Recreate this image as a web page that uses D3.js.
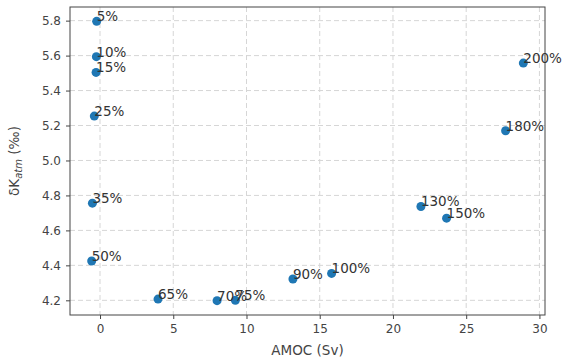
<!DOCTYPE html>
<html>
<head>
<meta charset="utf-8">
<script src="https://cdn.jsdelivr.net/npm/d3@7"></script>
<style>
  body { margin: 0; background: #fff; }
  text { font-family: "DejaVu Sans", sans-serif; }
</style>
</head>
<body>
<div id="chart"></div>
<script>
const labels = ["5%", "10%", "15%", "25%", "35%", "50%", "65%", "70%", "75%", "90%", "100%", "130%", "150%", "180%", "200%"];
const amoc = [-0.23, -0.25, -0.27, -0.39, -0.52, -0.57, 3.96, 7.99, 9.24, 13.17, 15.81, 21.91, 23.66, 27.69, 28.9];
const dK = [5.796, 5.594, 5.504, 5.254, 4.756, 4.425, 4.207, 4.198, 4.2, 4.322, 4.354, 4.737, 4.67, 5.17, 5.557];
const xTicks = [0, 5, 10, 15, 20, 25, 30];
const yTicks = [4.2, 4.4, 4.6, 4.8, 5.0, 5.2, 5.4, 5.6, 5.8];

const width = 568;
const height = 362;
const margin = { top: 7, right: 23, bottom: 47, left: 70 };

const x = d3.scaleLinear()
  .domain([-2.05, 30.38])
  .range([margin.left, width - margin.right]);

const y = d3.scaleLinear()
  .domain([4.116, 5.878])
  .range([height - margin.bottom, margin.top]);

const svg = d3.select("#chart")
  .append("svg")
  .attr("width", width)
  .attr("height", height);

// grid
svg.append("g")
  .selectAll("line")
  .data(xTicks)
  .join("line")
  .attr("x1", d => x(d)).attr("x2", d => x(d))
  .attr("y1", margin.top).attr("y2", height - margin.bottom)
  .attr("stroke", "#d6d6d6")
  .attr("stroke-dasharray", "5,3");

svg.append("g")
  .selectAll("line")
  .data(yTicks)
  .join("line")
  .attr("y1", d => y(d)).attr("y2", d => y(d))
  .attr("x1", margin.left).attr("x2", width - margin.right)
  .attr("stroke", "#d6d6d6")
  .attr("stroke-dasharray", "5,3");

const xAxis = d3.axisBottom(x).tickValues(xTicks).tickFormat(d3.format("d")).tickSize(4).tickPadding(5);
const yAxis = d3.axisLeft(y).tickValues(yTicks).tickFormat(d3.format(".1f")).tickSize(4).tickPadding(5);

svg.append("g")
  .attr("transform", `translate(0, ${height - margin.bottom})`)
  .call(xAxis)
  .call(g => g.select(".domain").remove());

svg.append("g")
  .attr("transform", `translate(${margin.left}, 0)`)
  .call(yAxis)
  .call(g => g.select(".domain").remove());

svg.selectAll(".tick text")
  .attr("font-size", 12)
  .attr("font-family", "DejaVu Sans, sans-serif")
  .attr("fill", "#444");
svg.selectAll(".tick line").attr("stroke", "#444");

// frame
svg.append("rect")
  .attr("x", margin.left)
  .attr("y", margin.top)
  .attr("width", width - margin.left - margin.right)
  .attr("height", height - margin.top - margin.bottom)
  .attr("fill", "none")
  .attr("stroke", "#444")
  .attr("stroke-width", 1);

// points
svg.selectAll(".dot")
  .data(labels)
  .join("circle")
  .attr("class", "dot")
  .attr("cx", (d, i) => x(amoc[i]))
  .attr("cy", (d, i) => y(dK[i]))
  .attr("r", 4.5)
  .attr("fill", "#1f77b4");

svg.selectAll(".lbl")
  .data(labels)
  .join("text")
  .attr("class", "lbl")
  .attr("x", (d, i) => x(amoc[i]))
  .attr("y", (d, i) => y(dK[i]))
  .attr("font-size", 13.5)
  .attr("fill", "#333")
  .text(d => d);

// axis titles
svg.append("text")
  .attr("text-anchor", "middle")
  .attr("x", (margin.left + width - margin.right) / 2)
  .attr("y", height - 7)
  .attr("font-size", 13.5)
  .attr("fill", "#444")
  .text("AMOC (Sv)");

const yl = svg.append("text")
  .attr("text-anchor", "middle")
  .attr("transform", `translate(19, ${(margin.top + height - margin.bottom) / 2}) rotate(-90)`)
  .attr("font-size", 13.5)
  .attr("fill", "#444");
yl.append("tspan").text("δK");
yl.append("tspan").attr("font-style", "italic").attr("font-size", 10).attr("dy", 3).text("atm");
yl.append("tspan").attr("dy", -3).text(" (‰)");
</script>
</body>
</html>
